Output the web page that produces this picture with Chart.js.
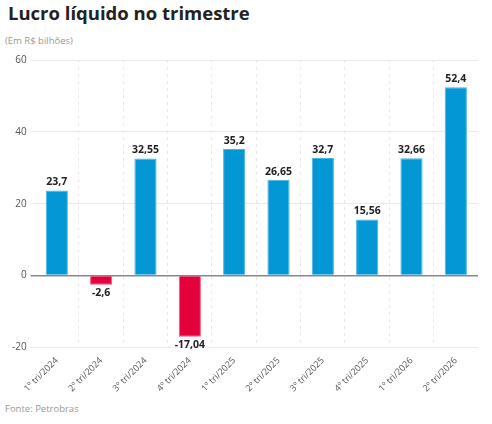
<!DOCTYPE html>
<html>
<head>
<meta charset="utf-8">
<script src="https://cdn.jsdelivr.net/npm/chart.js@4"></script>
<style>
  body { margin: 0; background: #fff; font-family: "Open Sans", sans-serif; }
  #wrap { position: relative; width: 492px; height: 424px; }
  h1 { position: absolute; left: 8px; top: 0px; margin: 0; font-size: 18.5px; font-weight: 700; color: #222; }
  .sub { position: absolute; left: 5px; top: 34px; font-size: 9.5px; color: #999; }
  .src { position: absolute; left: 5px; top: 402px; font-size: 9.5px; color: #999; }
  #box { position: absolute; left: 0; top: 49px; width: 492px; height: 353px; }
</style>
</head>
<body>
<div id="wrap">
  <h1>Lucro líquido no trimestre</h1>
  <div class="sub">(Em R$ bilhões)</div>
  <div id="box"><canvas id="chart"></canvas></div>
  <div class="src">Fonte: Petrobras</div>
</div>
<script>
const quarters = ['1º tri/2024', '2º tri/2024', '3º tri/2024', '4º tri/2024', '1º tri/2025',
  '2º tri/2025', '3º tri/2025', '4º tri/2025', '1º tri/2026', '2º tri/2026'];
const profit = [23.7, -2.6, 32.55, -17.04, 35.2, 26.65, 32.7, 15.56, 32.66, 52.4];
const yTicks = [-20, 0, 20, 40, 60];

const BLUE = '#0497d6';
const RED = '#e4003b';

// draws value labels above positive bars and below negative ones
const valueLabels = {
  id: 'valueLabels',
  afterDatasetsDraw(chart) {
    const ctx = chart.ctx;
    const meta = chart.getDatasetMeta(0);
    ctx.save();
    ctx.font = 'bold 10.5px "Open Sans"';
    ctx.fillStyle = '#222';
    ctx.textAlign = 'center';
    meta.data.forEach((bar, i) => {
      const v = profit[i];
      const txt = String(v).replace('.', ',');
      if (v >= 0) {
        ctx.textBaseline = 'bottom';
        ctx.fillText(txt, bar.x, bar.y - 3);
      } else {
        ctx.textBaseline = 'top';
        ctx.fillText(txt, bar.x, bar.y + 3);
      }
    });
    ctx.restore();
  }
};

new Chart(document.getElementById('chart'), {
  type: 'bar',
  data: {
    labels: quarters,
    datasets: [{
      data: profit,
      backgroundColor: profit.map(v => v < 0 ? RED : BLUE),
      borderColor: profit.map(v => v < 0 ? '#f0557a' : '#45b5e6'),
      borderWidth: 1,
      barPercentage: 0.5,
      categoryPercentage: 1
    }]
  },
  options: {
    responsive: true,
    maintainAspectRatio: false,
    animation: false,
    layout: { padding: { left: 8, right: 14, top: 11, bottom: 0 } },
    plugins: {
      legend: { display: false },
      tooltip: { enabled: false }
    },
    scales: {
      x: {
        grid: {
          color: c => (c.index > 0 && c.index < quarters.length ? '#e8e8e8' : 'rgba(0,0,0,0)'),
          drawTicks: false
        },
        border: { display: false, dash: [3, 4] },
        ticks: {
          color: '#555',
          font: { size: 9, family: 'Open Sans' },
          maxRotation: 45,
          minRotation: 45,
          padding: 8
        }
      },
      y: {
        min: -20,
        max: 60,
        afterBuildTicks: axis => { axis.ticks = yTicks.map(v => ({ value: v })); },
        grid: {
          color: c => (c.tick && c.tick.value === 0 ? '#888' : '#ebebeb'),
          lineWidth: c => (c.tick && c.tick.value === 0 ? 1.5 : 1),
          tickLength: 4
        },
        border: { display: false },
        ticks: {
          color: '#555',
          font: { size: 10, family: 'Open Sans' },
          padding: 4
        }
      }
    }
  },
  plugins: [valueLabels]
});
</script>
</body>
</html>
